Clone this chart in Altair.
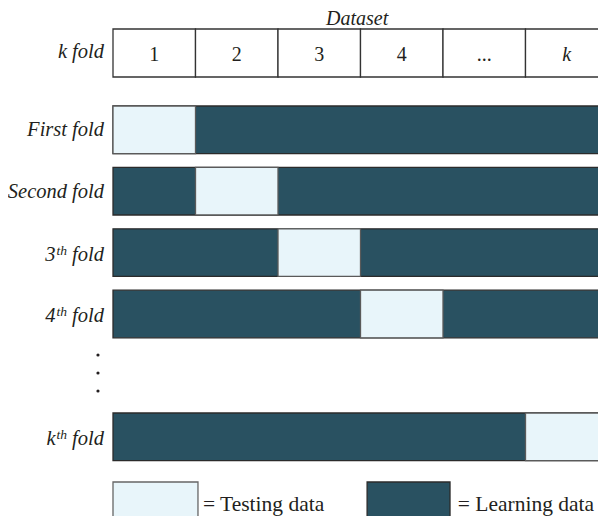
import altair as alt
import pandas as pd

# ---- data ----
columns = ["1", "2", "3", "4", "...", "k"]
column_italic = [False, False, False, False, False, True]
fold_rows = [0, 1, 2, 3, 5]
test_cols = [0, 1, 2, 3, 5]
plain_labels = ["First fold", "Second fold"]
plain_rows = [0, 1]
sup_bases = ["3", "4", "k"]
sup_rows = [2, 3, 5]
dot_rows = [4.055, 4.349, 4.642]
legend_items = ["= Testing data", "= Learning data"]
legend_box_x = [0.0, 3.08]
legend_box_x2 = [1.03, 4.085]
legend_text_x = [1.09, 4.18]
legend_fill = ["#e8f5fa", "#295161"]
legend_stroke = ["#666666", "#2b2b2b"]
n_cols = 6

DARK = "#295161"
LIGHT = "#e8f5fa"
FONT = "Liberation Serif"
FS = 20.5
TXT = "#231f20"

W, H = 590, 508
# ---- scales (column units / row units) ----
xs = alt.Scale(domain=[-105 / 82.5, (W - 105) / 82.5], nice=False, zero=False)
ys = alt.Scale(domain=[-98 / 61.4, (H - 98) / 61.4], nice=False, zero=False, reverse=True)
X = lambda f: alt.X(f, type="quantitative", scale=xs, axis=None)
Y = lambda f: alt.Y(f, type="quantitative", scale=ys, axis=None)

BH = 0.775
HEAD_Y, HEAD_Y2 = -1.254, -0.472
LABEL_X = -0.109

head = pd.DataFrame({
    "lab": columns,
    "x": list(range(n_cols)),
    "x2": [i + 1 for i in range(n_cols)],
    "xc": [i + 0.5 for i in range(n_cols)],
    "y": [HEAD_Y] * n_cols,
    "y2": [HEAD_Y2] * n_cols,
    "yc": [(HEAD_Y + HEAD_Y2) / 2] * n_cols,
    "it": ["italic" if v else "normal" for v in column_italic],
})

folds = pd.DataFrame({
    "r": fold_rows,
    "r2": [r + BH for r in fold_rows],
    "rc": [r + BH / 2 for r in fold_rows],
    "t": test_cols,
    "t2": [c + 1 for c in test_cols],
    "x0": [0] * len(fold_rows),
    "x1": [n_cols + 0.2] * len(fold_rows),
})

header_cells = alt.Chart(head).mark_rect(fill="white", stroke="#333333", strokeWidth=1.3, clip=True).encode(
    x=X("x"), x2="x2", y=Y("y"), y2="y2")
header_text_n = alt.Chart(head[head.it == "normal"]).mark_text(
    font=FONT, fontSize=20, baseline="alphabetic", align="center", dy=8, color=TXT).encode(
    x=X("xc"), y=Y("yc"), text="lab")
header_text_i = alt.Chart(head[head.it == "italic"]).mark_text(
    font=FONT, fontSize=20, fontStyle="italic", baseline="alphabetic", align="center", dy=8,
    color=TXT).encode(x=X("xc"), y=Y("yc"), text="lab")

title_df = pd.DataFrame({"t": ["Dataset"], "x": [2.96], "y": [HEAD_Y]})
title = alt.Chart(title_df).mark_text(font=FONT, fontSize=20, fontStyle="italic", baseline="alphabetic",
                                      align="center", dy=-4.5, color=TXT).encode(
    x=X("x"), y=Y("y"), text="t")

kfold_df = pd.DataFrame({"t": ["k fold"], "x": [LABEL_X], "y": [(HEAD_Y + HEAD_Y2) / 2]})
kfold = alt.Chart(kfold_df).mark_text(font=FONT, fontSize=FS, fontStyle="italic", baseline="alphabetic",
                                      align="right", dy=5, color=TXT).encode(
    x=X("x"), y=Y("y"), text="t")

dark_bars = alt.Chart(folds).mark_rect(fill=DARK, stroke="#2b2b2b", strokeWidth=1.3, clip=True).encode(
    x=X("x0"), x2="x1", y=Y("r"), y2="r2")
test_bars = alt.Chart(folds).mark_rect(fill=LIGHT, stroke="#5a5a5a", strokeWidth=1.3, clip=True).encode(
    x=X("t"), x2="t2", y=Y("r"), y2="r2")

plain_df = pd.DataFrame({"t": plain_labels, "y": [r + BH / 2 for r in plain_rows], "x": [LABEL_X] * 2})
plain = alt.Chart(plain_df).mark_text(font=FONT, fontSize=FS, fontStyle="italic", baseline="alphabetic",
                                      align="right", dy=6.5, color=TXT).encode(
    x=X("x"), y=Y("y"), text="t")

sup_df = pd.DataFrame({"base": sup_bases, "sup": ["th"] * 3, "tail": ["fold"] * 3,
                       "y": [r + BH / 2 for r in sup_rows], "x": [LABEL_X] * 3})
tail = alt.Chart(sup_df).mark_text(font=FONT, fontSize=FS, fontStyle="italic", baseline="alphabetic",
                                   align="right", dy=8.5, color=TXT).encode(
    x=X("x"), y=Y("y"), text="tail")
supt = alt.Chart(sup_df).mark_text(font=FONT, fontSize=13.5, fontStyle="italic", baseline="alphabetic",
                                   align="right", dx=-37, dy=2.5, color=TXT).encode(
    x=X("x"), y=Y("y"), text="sup")
base = alt.Chart(sup_df).mark_text(font=FONT, fontSize=FS, fontStyle="italic", baseline="alphabetic",
                                   align="right", dx=-48.5, dy=8.5, color=TXT).encode(
    x=X("x"), y=Y("y"), text="base")

dots_df = pd.DataFrame({"y": dot_rows, "x": [-0.182] * 3})
dots = alt.Chart(dots_df).mark_point(filled=True, color=TXT, size=10, opacity=1).encode(
    x=X("x"), y=Y("y"))

leg = pd.DataFrame({"t": legend_items, "x": legend_box_x, "x2": legend_box_x2, "tx": legend_text_x,
                    "y": [6.124] * 2, "y2": [7.3] * 2, "ty": [(511 - 106) / 61.4] * 2,
                    "fill": legend_fill, "stroke": legend_stroke})
leg_boxes = alt.Chart(leg).mark_rect(strokeWidth=1.3, clip=True).encode(
    x=X("x"), x2="x2", y=Y("y"), y2="y2",
    fill=alt.Fill("fill:N", scale=None), stroke=alt.Stroke("stroke:N", scale=None))
leg_text = alt.Chart(leg).mark_text(font=FONT, fontSize=21.5, baseline="alphabetic", align="left",
                                    color=TXT).encode(x=X("tx"), y=Y("ty"), text="t")

chart = alt.layer(
    header_cells, header_text_n, header_text_i, title, kfold,
    dark_bars, test_bars, plain, tail, supt, base, dots, leg_boxes, leg_text
).properties(
    width=W, height=H, padding=0, autosize=alt.AutoSizeParams(type="none")
).configure_view(stroke=None)

chart.save("out.html", embed_options={"renderer": "svg", "actions": False})
